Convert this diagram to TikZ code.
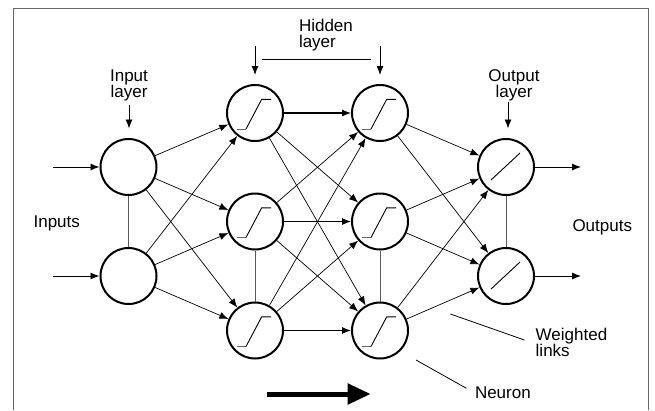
\documentclass[tikz,border=0pt]{standalone}
\usepackage{fontspec}
\setmainfont{Liberation Sans}
\usetikzlibrary{arrows.meta}
\begin{document}
\begin{tikzpicture}[x=1pt,y=-1pt,
  neuron/.style={circle,draw,line width=2pt,minimum size=56pt,inner sep=0pt},
  link/.style={line width=0.7pt,-{Latex[length=9pt,width=7pt]}},
  flat/.style={line width=1.1pt,-{Latex[length=9pt,width=7pt]}},
  feed/.style={line width=0.9pt,-{Latex[length=9pt,width=7pt]}},
  tie/.style={line width=1pt,draw=black!65},
  pointer/.style={line width=0.8pt},
  lbl/.style={font=\fontsize{17}{16.2}\selectfont,inner sep=0pt},
  sig/.pic={\draw[line width=0.9pt,draw=black!60] (-18,16) -- (-9,16);
            \draw[line width=0.9pt] (-9,16) -- (6.7,-13.7) -- (16,-13.7);},
  lin/.pic={\draw[line width=0.9pt] (-15,13) -- (14,-14);}
  ]
\useasboundingbox (0,0) rectangle (655,410);
\draw[line width=1.5pt,draw=black!60] (13.5,410) -- (13.5,8.5) -- (648.5,8.5) -- (648.5,410);

% neurons
\node[neuron] (i1) at (128.5,167) {};
\node[neuron] (i2) at (128.5,276) {};
\node[neuron] (h11) at (255,113) {};
\node[neuron] (h12) at (255,221.5) {};
\node[neuron] (h13) at (255,330.5) {};
\node[neuron] (h21) at (380,113) {};
\node[neuron] (h22) at (380,221.5) {};
\node[neuron] (h23) at (380,330.5) {};
\node[neuron] (o1) at (506,167) {};
\node[neuron] (o2) at (506,276) {};

\foreach \n in {h11,h12,h13,h21,h22,h23} \pic at (\n) {sig};
\foreach \n in {o1,o2} \pic at (\n) {lin};

% vertical ties
\draw[tie] (i1) -- (i2);
\draw[tie] (h12) -- (h13);
\draw[tie] (h22) -- (h23);
\draw[tie] (o1) -- (o2);

% input -> hidden 1
\foreach \a in {i1,i2} \foreach \b in {h11,h12,h13} \draw[link] (\a) -- (\b);
% hidden 1 -> hidden 2
\draw[flat] (h11) -- (h21);
\draw[flat] (h12) -- (h22);
\draw[flat] (h13) -- (h23);
\draw[link] (h11) -- (h22);
\draw[link] (h11) -- (h23);
\draw[link] (h12) -- (h21);
\draw[link] (h12) -- (h23);
\draw[link] (h13) -- (h21);
\draw[link] (h13) -- (h22);
% hidden 2 -> output
\foreach \a in {h21,h22,h23} \foreach \b in {o1,o2} \draw[link] (\a) -- (\b);

% inputs / outputs
\coordinate (in1) at (53,167);
\coordinate (in2) at (53,276);
\coordinate (out1) at (581,167);
\coordinate (out2) at (581,276);
\draw[feed] (in1) -- (i1);
\draw[feed] (in2) -- (i2);
\draw[feed] (o1) -- (out1);
\draw[feed] (o2) -- (out2);

% layer pointers
\coordinate (ila) at (129,105);  \coordinate (ilb) at (129,128.5);
\coordinate (ola) at (508,101.5); \coordinate (olb) at (508,128.5);
\coordinate (hla) at (255,46);   \coordinate (hlb) at (255,75);
\coordinate (hra) at (380,46);   \coordinate (hrb) at (380,75);
\coordinate (hba) at (262,59.3); \coordinate (hbb) at (371,59.3);
\draw[feed] (ila) -- (ilb);
\draw[feed] (ola) -- (olb);
\draw[feed] (hla) -- (hlb);
\draw[feed] (hra) -- (hrb);
\draw[pointer] (hba) -- (hbb);

% labels
\node[lbl,align=left,anchor=north west] (thid) at (298.8,18.5) {Hidden\\layer};
\node[lbl,align=center,anchor=north] (tin) at (129,69.3) {Input\\layer};
\node[lbl,align=center,anchor=north] (tout) at (514,69.3) {Output\\layer};
\node[lbl,anchor=base west] (tinputs) at (33.4,227.3) {Inputs};
\node[lbl,anchor=base west] (toutputs) at (572.3,231) {Outputs};
\node[lbl,align=left,anchor=north west] (tw) at (535.5,328) {Weighted\\links};
\node[lbl,anchor=base west] (tn) at (474.8,398) {Neuron};

% label pointers
\coordinate (wa) at (450.4,314);
\coordinate (wb) at (524.4,340);
\coordinate (na) at (416,360);
\coordinate (nb) at (466.4,388.3);
\draw[pointer] (wa) -- (wb);
\draw[pointer] (na) -- (nb);

% direction arrow
\coordinate (da) at (266.7,394);
\coordinate (db) at (370.7,394);
\draw[line width=5pt,-{Triangle[length=23pt,width=20pt]}] (da) -- (db);
\end{tikzpicture}
\end{document}
